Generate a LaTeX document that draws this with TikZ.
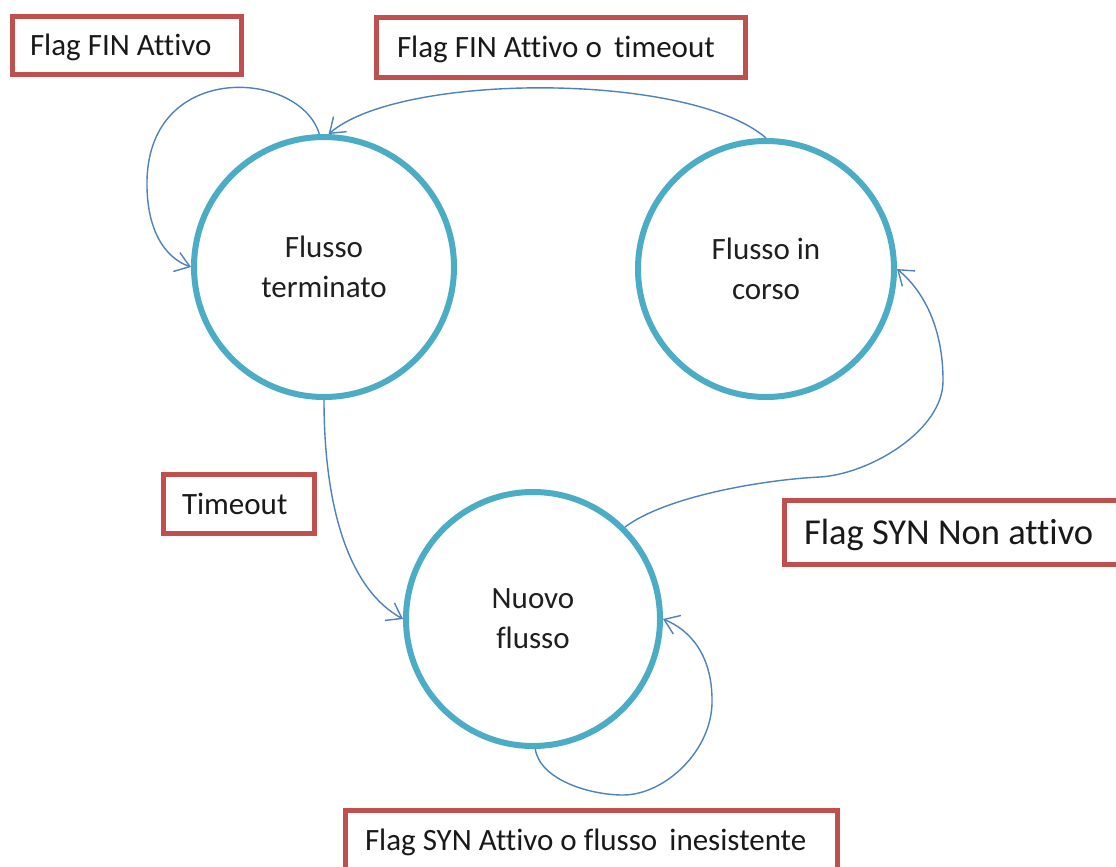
\documentclass[tikz,border=0pt]{standalone}
\usepackage{fontspec}
\setmainfont{Carlito}[Ligatures=NoCommon]
\usetikzlibrary{arrows.meta}
\definecolor{stateblue}{HTML}{4BACC6}
\definecolor{boxred}{HTML}{C0504D}
\definecolor{edgeblue}{HTML}{4F81BD}
\begin{document}
\begin{tikzpicture}[x=1pt,y=-1pt,
  state/.style={circle,draw=stateblue,line width=6pt,inner sep=0pt,align=center,
    font=\fontsize{31}{40}\selectfont,text=black!88},
  cond/.style={rectangle,draw=boxred,line width=5pt,inner xsep=#1,inner ysep=0pt,
    text height=20pt,text depth=0pt,anchor=west,
    font=\fontsize{31}{38}\selectfont,text=black!90},
  trans/.style={draw=edgeblue,line width=1.4pt,-{Straight Barb[length=14pt,width=20pt]}}]

\fill[white] (0,0) rectangle (1116,867);
\useasboundingbox (0,0) rectangle (1116,867);

% states
\node[state,minimum size=260pt] (c1) at (324,267) {Flusso\\terminato};
\node[state,minimum size=256pt] (c2) at (766,269) {Flusso in\\corso};
\node[state,minimum size=254pt] (c3) at (533,619) {Nuovo\\flusso};

% transition conditions
\node[cond=17.5pt,minimum height=58pt] (l1) at (10,45.5) {\makebox[194pt][l]{Flag FIN Attivo}};
\node[cond=20.5pt,minimum height=60pt] (l2) at (374,47.5) {\makebox[328pt][l]{Flag FIN Attivo o\, timeout}};
\node[cond=18.5pt,minimum height=59pt] (l3) at (161,504) {\makebox[114pt][l]{Timeout}};
\node[cond=19.5pt,minimum height=64pt,text height=24pt,font=\fontsize{36.5}{44}\selectfont]
  (l4) at (782,532.5) {\makebox[306.5pt][l]{Flag SYN Non attivo}};
\node[cond=19.5pt,minimum height=59pt] (l5) at (343,840) {\makebox[453pt][l]{Flag SYN Attivo o flusso\, inesistente}};

% transitions
\draw[trans] (c1.92) .. controls (300,70) and (150,60) .. (147,180)
  .. controls (146,230) and (165,258) .. (c1.west);
\draw[trans] (c2.90) .. controls (690,72) and (400,72) .. (c1.88);
\draw[trans] (c1.south) .. controls (324,510) and (350,590) .. (c3.west);
\draw[trans] (c3.45) .. controls (665,497) and (760,480) .. (820,477)
  .. controls (870,474) and (944,430) .. (943,380)
  .. controls (943,330) and (925,292) .. (c2.east);
\draw[trans] (c3.-89) .. controls (540,780) and (590,795) .. (623,795)
  .. controls (665,795) and (713,750) .. (712,700)
  .. controls (712,655) and (690,630) .. (c3.east);
\end{tikzpicture}
\end{document}
